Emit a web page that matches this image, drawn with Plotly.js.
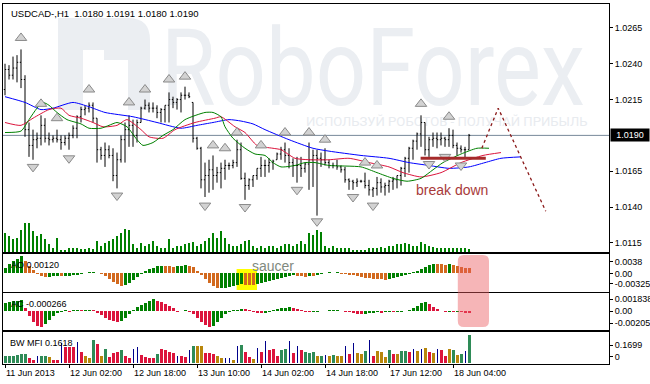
<!DOCTYPE html>
<html><head><meta charset="utf-8">
<script src="https://cdn.plot.ly/plotly-3.0.1.min.js"></script>
<style>
html,body{margin:0;padding:0;background:#fff;}
#wrap{position:relative;width:650px;height:384px;overflow:hidden;background:#fff;}
#wm{position:absolute;left:0;top:0;}
#chart{position:absolute;left:0;top:0;width:650px;height:384px;}
</style></head><body>
<div id="wrap"><svg id="wm" width="650" height="384" xmlns="http://www.w3.org/2000/svg"></svg><div id="chart"></div></div>
<script>
// ---------------- DATA ----------------
const symbol = 'USDCAD-,H1';
const timeLabels = ['11 Jun 2013','12 Jun 02:00','12 Jun 18:00','13 Jun 10:00','14 Jun 02:00','14 Jun 18:00','17 Jun 12:00','18 Jun 04:00'];
const timeLabelBars = [0,16,32,48,64,80,96,112];
const priceTicks = [1.0115,1.0140,1.0165,1.0215,1.0240,1.0265];

const open = [1.0222,1.0236,1.0232,1.0237,1.0241,1.0229,1.0194,1.0183,1.0187,1.0188,
1.0197,1.0188,1.0187,1.0188,1.0187,1.0185,1.0188,1.0190,1.0195,1.0203,
1.0208,1.0209,1.0211,1.0202,1.0180,1.0176,1.0180,1.0176,1.0162,1.0173,
1.0187,1.0194,1.0197,1.0190,1.0199,1.0209,1.0211,1.0209,1.0209,1.0206,
1.0208,1.0211,1.0215,1.0213,1.0215,1.0218,1.0218,1.0213,1.0188,1.0181,
1.0159,1.0162,1.0166,1.0162,1.0164,1.0167,1.0169,1.0169,1.0171,1.0180,
1.0160,1.0155,1.0159,1.0162,1.0167,1.0169,1.0169,1.0171,1.0173,1.0177,
1.0180,1.0176,1.0171,1.0169,1.0169,1.0167,1.0170,1.0173,1.0176,1.0174,
1.0173,1.0171,1.0169,1.0169,1.0168,1.0166,1.0159,1.0158,1.0157,1.0158,
1.0158,1.0155,1.0152,1.0153,1.0157,1.0154,1.0155,1.0158,1.0159,1.0162,
1.0167,1.0174,1.0181,1.0186,1.0191,1.0199,1.0180,1.0187,1.0188,1.0187,
1.0188,1.0187,1.0190,1.0183,1.0181,1.0180,1.0180];
const high = [1.0240,1.0239,1.0245,1.0246,1.0250,1.0232,1.0199,1.0194,1.0192,1.0204,
1.0202,1.0192,1.0190,1.0194,1.0190,1.0190,1.0192,1.0197,1.0204,1.0210,
1.0211,1.0213,1.0213,1.0202,1.0182,1.0185,1.0183,1.0181,1.0178,1.0190,
1.0199,1.0204,1.0201,1.0201,1.0210,1.0215,1.0213,1.0213,1.0211,1.0209,
1.0211,1.0220,1.0217,1.0216,1.0220,1.0224,1.0220,1.0213,1.0189,1.0182,
1.0171,1.0173,1.0176,1.0168,1.0171,1.0173,1.0171,1.0173,1.0187,1.0185,
1.0164,1.0160,1.0162,1.0167,1.0175,1.0173,1.0174,1.0173,1.0178,1.0182,
1.0185,1.0181,1.0174,1.0175,1.0175,1.0171,1.0185,1.0180,1.0180,1.0178,
1.0181,1.0173,1.0171,1.0173,1.0169,1.0168,1.0160,1.0159,1.0160,1.0159,
1.0164,1.0159,1.0154,1.0161,1.0160,1.0157,1.0159,1.0161,1.0162,1.0168,
1.0175,1.0182,1.0187,1.0192,1.0204,1.0199,1.0189,1.0192,1.0192,1.0192,
1.0189,1.0195,1.0194,1.0185,1.0183,1.0182,1.0191];
const low = [1.0218,1.0229,1.0229,1.0227,1.0223,1.0189,1.0175,1.0173,1.0181,1.0183,
1.0185,1.0183,1.0185,1.0185,1.0180,1.0183,1.0180,1.0188,1.0188,1.0199,
1.0204,1.0206,1.0199,1.0171,1.0173,1.0168,1.0174,1.0158,1.0153,1.0171,
1.0171,1.0182,1.0182,1.0185,1.0199,1.0208,1.0206,1.0206,1.0202,1.0199,
1.0199,1.0199,1.0209,1.0208,1.0206,1.0215,1.0216,1.0185,1.0180,1.0153,
1.0147,1.0150,1.0152,1.0157,1.0153,1.0159,1.0166,1.0167,1.0168,1.0159,
1.0145,1.0152,1.0154,1.0159,1.0161,1.0161,1.0164,1.0166,1.0173,1.0173,
1.0171,1.0167,1.0161,1.0157,1.0161,1.0164,1.0152,1.0154,1.0134,1.0168,
1.0169,1.0167,1.0167,1.0166,1.0164,1.0157,1.0152,1.0152,1.0154,1.0157,
1.0153,1.0148,1.0147,1.0148,1.0150,1.0148,1.0150,1.0152,1.0153,1.0155,
1.0161,1.0164,1.0173,1.0180,1.0182,1.0176,1.0175,1.0182,1.0181,1.0183,
1.0182,1.0182,1.0181,1.0176,1.0178,1.0174,1.0180];
const close = [1.0236,1.0232,1.0237,1.0241,1.0229,1.0194,1.0183,1.0187,1.0188,1.0197,
1.0188,1.0187,1.0188,1.0187,1.0185,1.0188,1.0190,1.0195,1.0203,1.0208,
1.0209,1.0211,1.0202,1.0180,1.0176,1.0180,1.0176,1.0162,1.0173,1.0187,
1.0194,1.0197,1.0190,1.0199,1.0209,1.0211,1.0209,1.0209,1.0206,1.0208,
1.0211,1.0215,1.0213,1.0215,1.0218,1.0218,1.0217,1.0188,1.0181,1.0159,
1.0162,1.0166,1.0162,1.0164,1.0167,1.0169,1.0169,1.0171,1.0180,1.0160,
1.0155,1.0159,1.0162,1.0167,1.0169,1.0169,1.0171,1.0172,1.0177,1.0180,
1.0176,1.0171,1.0169,1.0169,1.0167,1.0170,1.0173,1.0176,1.0174,1.0173,
1.0171,1.0169,1.0169,1.0168,1.0166,1.0159,1.0158,1.0157,1.0158,1.0158,
1.0155,1.0152,1.0153,1.0157,1.0154,1.0155,1.0158,1.0159,1.0162,1.0167,
1.0174,1.0181,1.0186,1.0191,1.0199,1.0180,1.0187,1.0188,1.0187,1.0188,
1.0187,1.0190,1.0183,1.0181,1.0180,1.0180,1.0190];
const volume = [1140,960,780,840,1320,1740,1740,1260,960,1080,
780,480,240,840,120,120,240,240,240,180,
180,240,180,660,360,540,660,780,960,1140,
1380,1320,480,240,540,360,480,660,360,240,
240,780,240,360,360,480,540,600,360,480,
660,840,1140,840,1260,840,480,360,360,480,
660,720,360,240,360,240,360,360,240,360,
480,480,360,480,660,480,1140,1020,1320,1200,
360,240,360,240,240,240,240,120,120,120,
120,240,240,240,300,240,360,360,480,480,
540,480,360,360,600,480,360,300,240,240,
240,240,240,240,240,240,180];

// Alligator (shifted lines), read at knots
const jawBar = [0,5,9,12,17,21,25,32,38,44,48,52,56,59,62,65,71,77,81,89,96,101,106,111,116,120,124,129];
const jawPrice = [1.0217,1.0213,1.0208,1.0209,1.0213,1.0210,1.0206,1.0203,1.0199,1.0195,1.0197,1.0199,1.0201,1.0200,1.0198,1.0194,1.0187,1.0181,1.0179,1.0176,1.0174,1.0171,1.0169,1.0167,1.0168,1.0171,1.0174,1.0175];
const teethBar = [0,4,7,11,14,16,19,22,24.5,28,30.5,34,36,39.5,42.5,47.5,52.5,54,57.5,60,63,67,69,72.5,76,81,86,91,96,99.5,104,109,114,119.5,124];
const teethPrice = [1.0199,1.0197,1.0202,1.0208,1.0209,1.0204,1.0202,1.0199,1.0196,1.0197,1.0201,1.0194,1.0189,1.0188,1.0194,1.0199,1.0202,1.0203,1.0196,1.0192,1.0183,1.0181,1.0180,1.0174,1.0173,1.0173,1.0174,1.0171,1.0168,1.0164,1.0161,1.0164,1.0171,1.0176,1.0178];
const lipsBar = [0,4,6,8,9.5,11,13,15.5,19,21,24,26,28,30.5,33,34.5,37,39.5,42,45,50,52,54,55,57,60,62.5,65,67,69,72.5,75,77.5,81,89,93,97,100.5,104,107,109.5,114,118,121];
const lipsPrice = [1.0192,1.0193,1.0201,1.0209,1.0213,1.0211,1.0206,1.0201,1.0198,1.0195,1.0195,1.0197,1.0199,1.0196,1.0187,1.0183,1.0185,1.0190,1.0194,1.0201,1.0206,1.0206,1.0203,1.0196,1.0188,1.0181,1.0177,1.0176,1.0171,1.0168,1.0169,1.0171,1.0171,1.0169,1.0168,1.0164,1.0160,1.0158,1.0160,1.0166,1.0171,1.0177,1.0181,1.0181];

// Fractals (arrow positions)
const fractalUpBar = [4,9,13,21,31,35,41,45,52,55,58,64,70,76,80,90,93,104,111];
const fractalUpPrice = [1.0258,1.0212,1.0202,1.0222,1.0213,1.0222,1.0229,1.0231,1.0183,1.0181,1.0192,1.0183,1.0192,1.0192,1.0187,1.0171,1.0169,1.0212,1.0203];
const fractalDownBar = [7,16,28,50,60,73,78,87,92,106,110,114];
const fractalDownPrice = [1.0168,1.0174,1.0148,1.0141,1.0140,1.0152,1.0130,1.0147,1.0141,1.0170,1.0175,1.0169];

// Analyst drawings
const breakBar = [103.9,120.2];
const breakPrice = [1.0174,1.0174];
const forecastBar = [119.2,123.3,135.2];
const forecastPrice = [1.0181,1.0209,1.0137];
const saucerBars = [57.9,63.0];
const highlightBars = [113.2,121.0];

// Awesome Oscillator
const ao = [0.0011,0.00198,0.00264,0.00308,0.0038,0.00264,0.00154,0.00066,-0.00022,-0.00066,
-0.00077,-0.00073,-0.00066,-0.00062,-0.00066,-0.00059,-0.00051,-0.0004,-0.00026,-0.00011,
0.00011,0.00022,0.00033,0.00018,-0.00011,-0.00066,-0.00132,-0.00198,-0.00242,-0.00275,
-0.00264,-0.0022,-0.00154,-0.00088,-0.00022,0.00044,0.00088,0.00121,0.00154,0.00165,
0.00158,0.00154,0.0015,0.00161,0.00172,0.0018,0.00165,0.00132,0.00044,-0.00044,
-0.00132,-0.0022,-0.00286,-0.00325,-0.0032,-0.0031,-0.003,-0.00286,-0.00264,-0.00242,
-0.00253,-0.0026,-0.00264,-0.00242,-0.0022,-0.00198,-0.00176,-0.00154,-0.00132,-0.0011,
-0.00088,-0.00066,-0.00044,-0.00055,-0.00066,-0.0007,-0.00062,-0.00066,-0.00033,-0.00011,
0.00011,0.00022,0.00011,0.00022,-0.00011,-0.00018,-0.00026,-0.00044,-0.00066,-0.00088,
-0.00099,-0.0011,-0.00117,-0.00123,-0.0013,-0.00136,-0.00128,-0.0011,-0.00088,-0.00066,
-0.00044,-0.00022,0.00022,0.00055,0.00099,0.00143,0.00187,0.00213,0.00209,0.00202,
0.00194,0.00198,0.00187,0.0017,0.00135,0.00125,0.0012];
const aoLabelVals = [0.00253,0,-0.00231];
const aoLabelText = ['0.0038','0.00','-0.00325'];

// Accelerator Oscillator
const ac = [0.00104,0.00117,0.00124,0.0013,0.00143,0.00039,-0.00065,-0.00143,-0.00195,-0.00205,
-0.00169,-0.00117,-0.00065,-0.00026,-0.00007,0.00007,-0.00007,0.00007,0.00013,0.00007,
0.00013,0.00017,0.0001,-0.0002,-0.00052,-0.00091,-0.00117,-0.0013,-0.00143,-0.0013,
-0.00091,-0.00039,0.00013,0.00052,0.00078,0.00104,0.0013,0.0015,0.0013,0.00117,
0.00091,0.00065,0.00039,-0.00007,0.00002,0.00007,-0.00007,-0.00039,-0.00091,-0.00143,
-0.00182,-0.00204,-0.00195,-0.00143,-0.00091,-0.00039,-0.00013,0.00007,0.00013,0.00026,
0.0002,0.00007,-0.00007,-0.0002,-0.00026,-0.0002,-0.00007,0.00007,0.0002,0.00033,
0.00039,0.00046,0.00033,0.0002,0.00007,-0.00007,-0.00013,-0.0001,-0.00007,-0.00003,
0.00004,0.00007,0.00009,0.00016,0.00004,-0.00007,-0.00013,-0.00023,-0.00033,-0.00039,
-0.00033,-0.00026,-0.0002,-0.00017,-0.0002,-0.00016,-0.00013,-0.00017,-0.00013,-0.00007,
0.00001,0.00013,0.00039,0.00065,0.00098,0.00117,0.00091,0.00052,0.0002,-0.00001,
-0.0001,-0.00007,-0.00013,-0.0001,-0.00013,-0.0002,-0.000266];
const acLabelVals = [0.00156,0,-0.00156];
const acLabelText = ['0.001838','0.00','-0.00205'];

// Market Facilitation Index (value + Bill Williams state: g=green, b=fade, f=fake, s=squat)
const mfi = [0.0387,0.0422,0.0422,0.0462,0.0538,0.0538,0.0289,0.0156,0.0422,0.0422,
0.0422,0.0347,0.0191,0.0191,0.1156,0.0925,0.0925,0.0925,0.1196,0.0618,
0.0422,0.0289,0.1329,0.1098,0.0422,0.0809,0.0347,0.0578,0.0618,0.0769,
0.0387,0.0289,0.0809,0.0925,0.0480,0.0347,0.0272,0.0272,0.0538,0.0827,
0.0769,0.0653,0.0578,0.0422,0.0387,0.0347,0.0769,0.1000,0.1000,0.0965,
0.0578,0.0578,0.0538,0.0387,0.0272,0.0289,0.0289,0.0191,0.0965,0.1058,
0.0618,0.0347,0.0231,0.0867,0.0618,0.1254,0.0769,0.0809,0.0422,0.0734,
0.0809,0.1254,0.0578,0.0965,0.0769,0.0653,0.0578,0.0618,0.0387,0.0422,
0.0480,0.0387,0.0480,0.0387,0.0422,0.0965,0.0538,0.1156,0.0578,0.0538,
0.0676,0.1347,0.0387,0.0676,0.0618,0.0347,0.0734,0.0538,0.0538,0.0711,
0.0711,0.0653,0.0809,0.0676,0.0827,0.0867,0.0618,0.0578,0.0827,0.0734,
0.0422,0.0827,0.0769,0.0480,0.0538,0.0676,0.1618];
const mfiState = ('ggggggssfg'+'gbssfsssfs'+'bbgsbgsssg'+'ssffssssgs'+'sssfssfgbb'+
 'sssbbffbfg'+'ssbfsfsssg'+'gfsfsgggbg'+'fbgbbfsfbb'+'gfsbbbgsbg'+'gsfbfbsbfs'+'sbgbgfg').split('');
const mfiLabelVals = [0.104,0.0347];
const mfiLabelText = ['0.1699','0'];

// ---------------- WATERMARK ----------------
const wmText = 'RoboForex';
const wmSub = 'ИСПОЛЬЗУЙ РОБОТОВ - ПОЛУЧАЙ ПРИБЫЛЬ';
(function(){
  const svg = document.getElementById('wm');
  const c = '#ebeef2';
  svg.innerHTML =
    '<path d="M58,18 H128 Q150,18 150,40 V110 H128 V72 H104 V110 H58 Z" fill="'+c+'"/>' +
    '<rect x="83" y="50" width="21" height="60" fill="#fff"/>' +
    '<rect x="104" y="60" width="24" height="12" fill="#fff"/>' +
    '<text id="wm1" font-family="Roboto" font-size="108" fill="'+c+'">'+wmText+'</text>' +
    '<text id="wm2" font-family="Roboto" font-size="12.5" fill="#e8ebef">'+wmSub+'</text>';
  // horizontally condense each text to the width it has in the picture
  function fit(id, x, y, w){
    const t = document.getElementById(id);
    const nat = t.getComputedTextLength() || w;
    t.setAttribute('transform', 'translate('+x+','+y+') scale('+(w/nat)+',1)');
  }
  fit('wm1', 161, 105, 424);
  fit('wm2', 306, 126, 282);
})();

// ---------------- CHART ----------------
const FONT = 'Liberation Sans, Arial, sans-serif';
const bars = close.map((_, i) => i);
const n = close.length;
const last = n - 1;
const px = v => (v - 3) / 606;      // paper x from pixel
const py = v => (364 - v) / 360;    // paper y from pixel

const aoColors = ao.map((v, i) => (i === 0 || v > ao[i-1]) ? '#008000' : '#d2691e');
const acColors = ac.map((v, i) => (i === 0 || v > ac[i-1]) ? '#008000' : '#dc143c');
const mfiColorMap = {g:'#2e8b57', b:'#b8860b', f:'#00008b', s:'#dc143c'};
const mfiWidthMap = {g:0.75, b:0.75, f:0.25, s:0.75};

const traces = [
  {type:'bar', x:bars, y:volume, xaxis:'x', yaxis:'y', width:0.3,
   marker:{color:'#008000', line:{width:0}}, hoverinfo:'skip'},
  {type:'ohlc', x:bars, open:open, high:high, low:low, close:close, xaxis:'x', yaxis:'y2',
   tickwidth:0.3, increasing:{line:{color:'#000', width:1}}, decreasing:{line:{color:'#000', width:1}}, hoverinfo:'skip'},
  {type:'scatter', mode:'lines', x:jawBar, y:jawPrice, xaxis:'x', yaxis:'y2',
   line:{color:'#0000ff', width:1, shape:'spline', smoothing:0.6}, hoverinfo:'skip'},
  {type:'scatter', mode:'lines', x:teethBar, y:teethPrice, xaxis:'x', yaxis:'y2',
   line:{color:'#dc143c', width:1, shape:'spline', smoothing:0.6}, hoverinfo:'skip'},
  {type:'scatter', mode:'lines', x:lipsBar, y:lipsPrice, xaxis:'x', yaxis:'y2',
   line:{color:'#008000', width:1, shape:'spline', smoothing:0.6}, hoverinfo:'skip'},
  {type:'scatter', mode:'markers', x:fractalUpBar, y:fractalUpPrice, xaxis:'x', yaxis:'y2',
   marker:{symbol:'triangle-up', size:10, color:'#d2d2d2', line:{color:'#8a8a8a', width:1}}, hoverinfo:'skip'},
  {type:'scatter', mode:'markers', x:fractalDownBar, y:fractalDownPrice, xaxis:'x', yaxis:'y2',
   marker:{symbol:'triangle-down', size:10, color:'#d2d2d2', line:{color:'#8a8a8a', width:1}}, hoverinfo:'skip'},
  {type:'scatter', mode:'lines', x:breakBar, y:breakPrice, xaxis:'x', yaxis:'y2',
   line:{color:'#a52a2a', width:3}, hoverinfo:'skip'},
  {type:'scatter', mode:'lines', x:forecastBar, y:forecastPrice, xaxis:'x', yaxis:'y2',
   line:{color:'#8b1a1a', width:1.3, dash:'dot'}, hoverinfo:'skip'},
  {type:'bar', x:bars, y:ao, xaxis:'x2', yaxis:'y3', width:0.75,
   marker:{color:aoColors, line:{width:0}}, hoverinfo:'skip'},
  {type:'bar', x:bars, y:ac, xaxis:'x3', yaxis:'y4', width:0.75,
   marker:{color:acColors, line:{width:0}}, hoverinfo:'skip'},
  {type:'bar', x:bars, y:mfi, xaxis:'x4', yaxis:'y5', width:mfiState.map(s => mfiWidthMap[s]),
   marker:{color:mfiState.map(s => mfiColorMap[s]), line:{width:0}}, hoverinfo:'skip'}
];

function yStyle(extra){
  return Object.assign({side:'right', showgrid:false, zeroline:false, showline:true, mirror:true,
    linecolor:'#000', linewidth:1, ticks:'outside', ticklen:3, tickwidth:1, tickcolor:'#000',
    tickfont:{family:FONT, size:9, color:'#000'}, fixedrange:true}, extra);
}
function xStyle(extra){
  return Object.assign({showgrid:false, zeroline:false, showline:true, mirror:true,
    linecolor:'#000', linewidth:1, ticks:'', showticklabels:false, fixedrange:true,
    rangeslider:{visible:false}}, extra);
}

const labelFont = {family:FONT, size:9, color:'#000'};
const layout = {
  width:650, height:384,
  margin:{l:3, r:41, t:4, b:20, pad:0},
  paper_bgcolor:'rgba(0,0,0,0)', plot_bgcolor:'rgba(0,0,0,0)',
  showlegend:false, barmode:'overlay', bargap:0,
  font:{family:FONT, size:9, color:'#000'},
  xaxis: xStyle({range:[-0.5,151], anchor:'y'}),
  xaxis2: xStyle({matches:'x', anchor:'y3'}),
  xaxis3: xStyle({matches:'x', anchor:'y4'}),
  xaxis4: xStyle({matches:'x', anchor:'y5', ticks:'outside', ticklen:3, tickcolor:'#000',
    showticklabels:true, tickvals:timeLabelBars, ticktext:timeLabels, ticklabelposition:'outside right',
    tickangle:0, tickfont:{family:FONT, size:9, color:'#000'}}),
  yaxis: {domain:[0.3111,1], range:[0,14880], visible:false, fixedrange:true},
  yaxis2: yStyle({overlaying:'y', anchor:'x', range:[1.01086,1.02817],
    tickvals:priceTicks, ticktext:priceTicks.map(v => v.toFixed(4))}),
  yaxis3: yStyle({domain:[0.2,0.30556], anchor:'x2', range:[-0.00407,0.00429],
    tickvals:aoLabelVals, ticktext:aoLabelText}),
  yaxis4: yStyle({domain:[0.09444,0.19722], anchor:'x3', range:[-0.00247,0.00234],
    tickvals:acLabelVals, ticktext:acLabelText}),
  yaxis5: yStyle({domain:[0,0.08889], anchor:'x4', range:[-0.00578,0.1792],
    tickvals:mfiLabelVals, ticktext:mfiLabelText}),
  shapes: [
    {type:'line', xref:'paper', x0:0, x1:1, yref:'y2', y0:close[last], y1:close[last],
     line:{color:'#778899', width:1}, layer:'below'},
    {type:'rect', xref:'x', x0:saucerBars[0], x1:saucerBars[1], yref:'paper', y0:py(290), y1:py(269),
     fillcolor:'#ffff00', line:{width:0}, layer:'below'},
    (function(){
      const x0 = highlightBars[0], x1 = highlightBars[1], y0 = py(327), y1 = py(255);
      const rx = 1.5, ry = 6/360;
      const p = 'M'+(x0+rx)+','+y1+' L'+(x1-rx)+','+y1+' Q'+x1+','+y1+' '+x1+','+(y1-ry)+
        ' L'+x1+','+(y0+ry)+' Q'+x1+','+y0+' '+(x1-rx)+','+y0+' L'+(x0+rx)+','+y0+
        ' Q'+x0+','+y0+' '+x0+','+(y0+ry)+' L'+x0+','+(y1-ry)+' Q'+x0+','+y1+' '+(x0+rx)+','+y1+' Z';
      return {type:'path', xref:'x', yref:'paper', path:p, fillcolor:'rgba(236,90,95,0.45)', line:{width:0}, layer:'above'};
    })()
  ],
  annotations: [
    {xref:'paper', yref:'paper', x:px(9), y:py(13), xanchor:'left', yanchor:'middle', showarrow:false,
     text: symbol + '  ' + [open[last], high[last], low[last], close[last]].map(v => v.toFixed(4)).join(' '),
     font:{family:FONT, size:9.5, color:'#000'}},
    {xref:'paper', yref:'paper', x:px(9), y:py(265), xanchor:'left', yanchor:'middle', showarrow:false,
     text:'AO ' + ao[last].toFixed(5), font:labelFont},
    {xref:'paper', yref:'paper', x:px(9), y:py(303.5), xanchor:'left', yanchor:'middle', showarrow:false,
     text:'AC ' + ac[last].toFixed(6), font:labelFont},
    {xref:'paper', yref:'paper', x:px(8), y:py(342.5), xanchor:'left', yanchor:'middle', showarrow:false,
     text:'BW MFI ' + mfi[last].toFixed(4), font:labelFont},
    {xref:'paper', yref:'paper', x:px(273), y:py(266), xanchor:'center', yanchor:'middle', showarrow:false,
     text:'saucer', font:{family:'Liberation Sans, Arial, sans-serif', size:14, color:'#7f8a80'}},
    {xref:'x', yref:'y2', x:111.75, y:1.0152, xanchor:'center', yanchor:'middle', showarrow:false,
     text:'break down', font:{family:'Liberation Sans, Arial, sans-serif', size:14, color:'#a83a3a'}},
    {xref:'paper', yref:'y2', x:1, xshift:1, y:close[last], xanchor:'left', yanchor:'middle', showarrow:false,
     text:close[last].toFixed(4), bgcolor:'#000', width:36, height:10, borderpad:1, align:'center',
     font:{family:FONT, size:9, color:'#fff'}}
  ]
};

Plotly.newPlot('chart', traces, layout, {staticPlot:true, displayModeBar:false});
</script>
</body></html>
